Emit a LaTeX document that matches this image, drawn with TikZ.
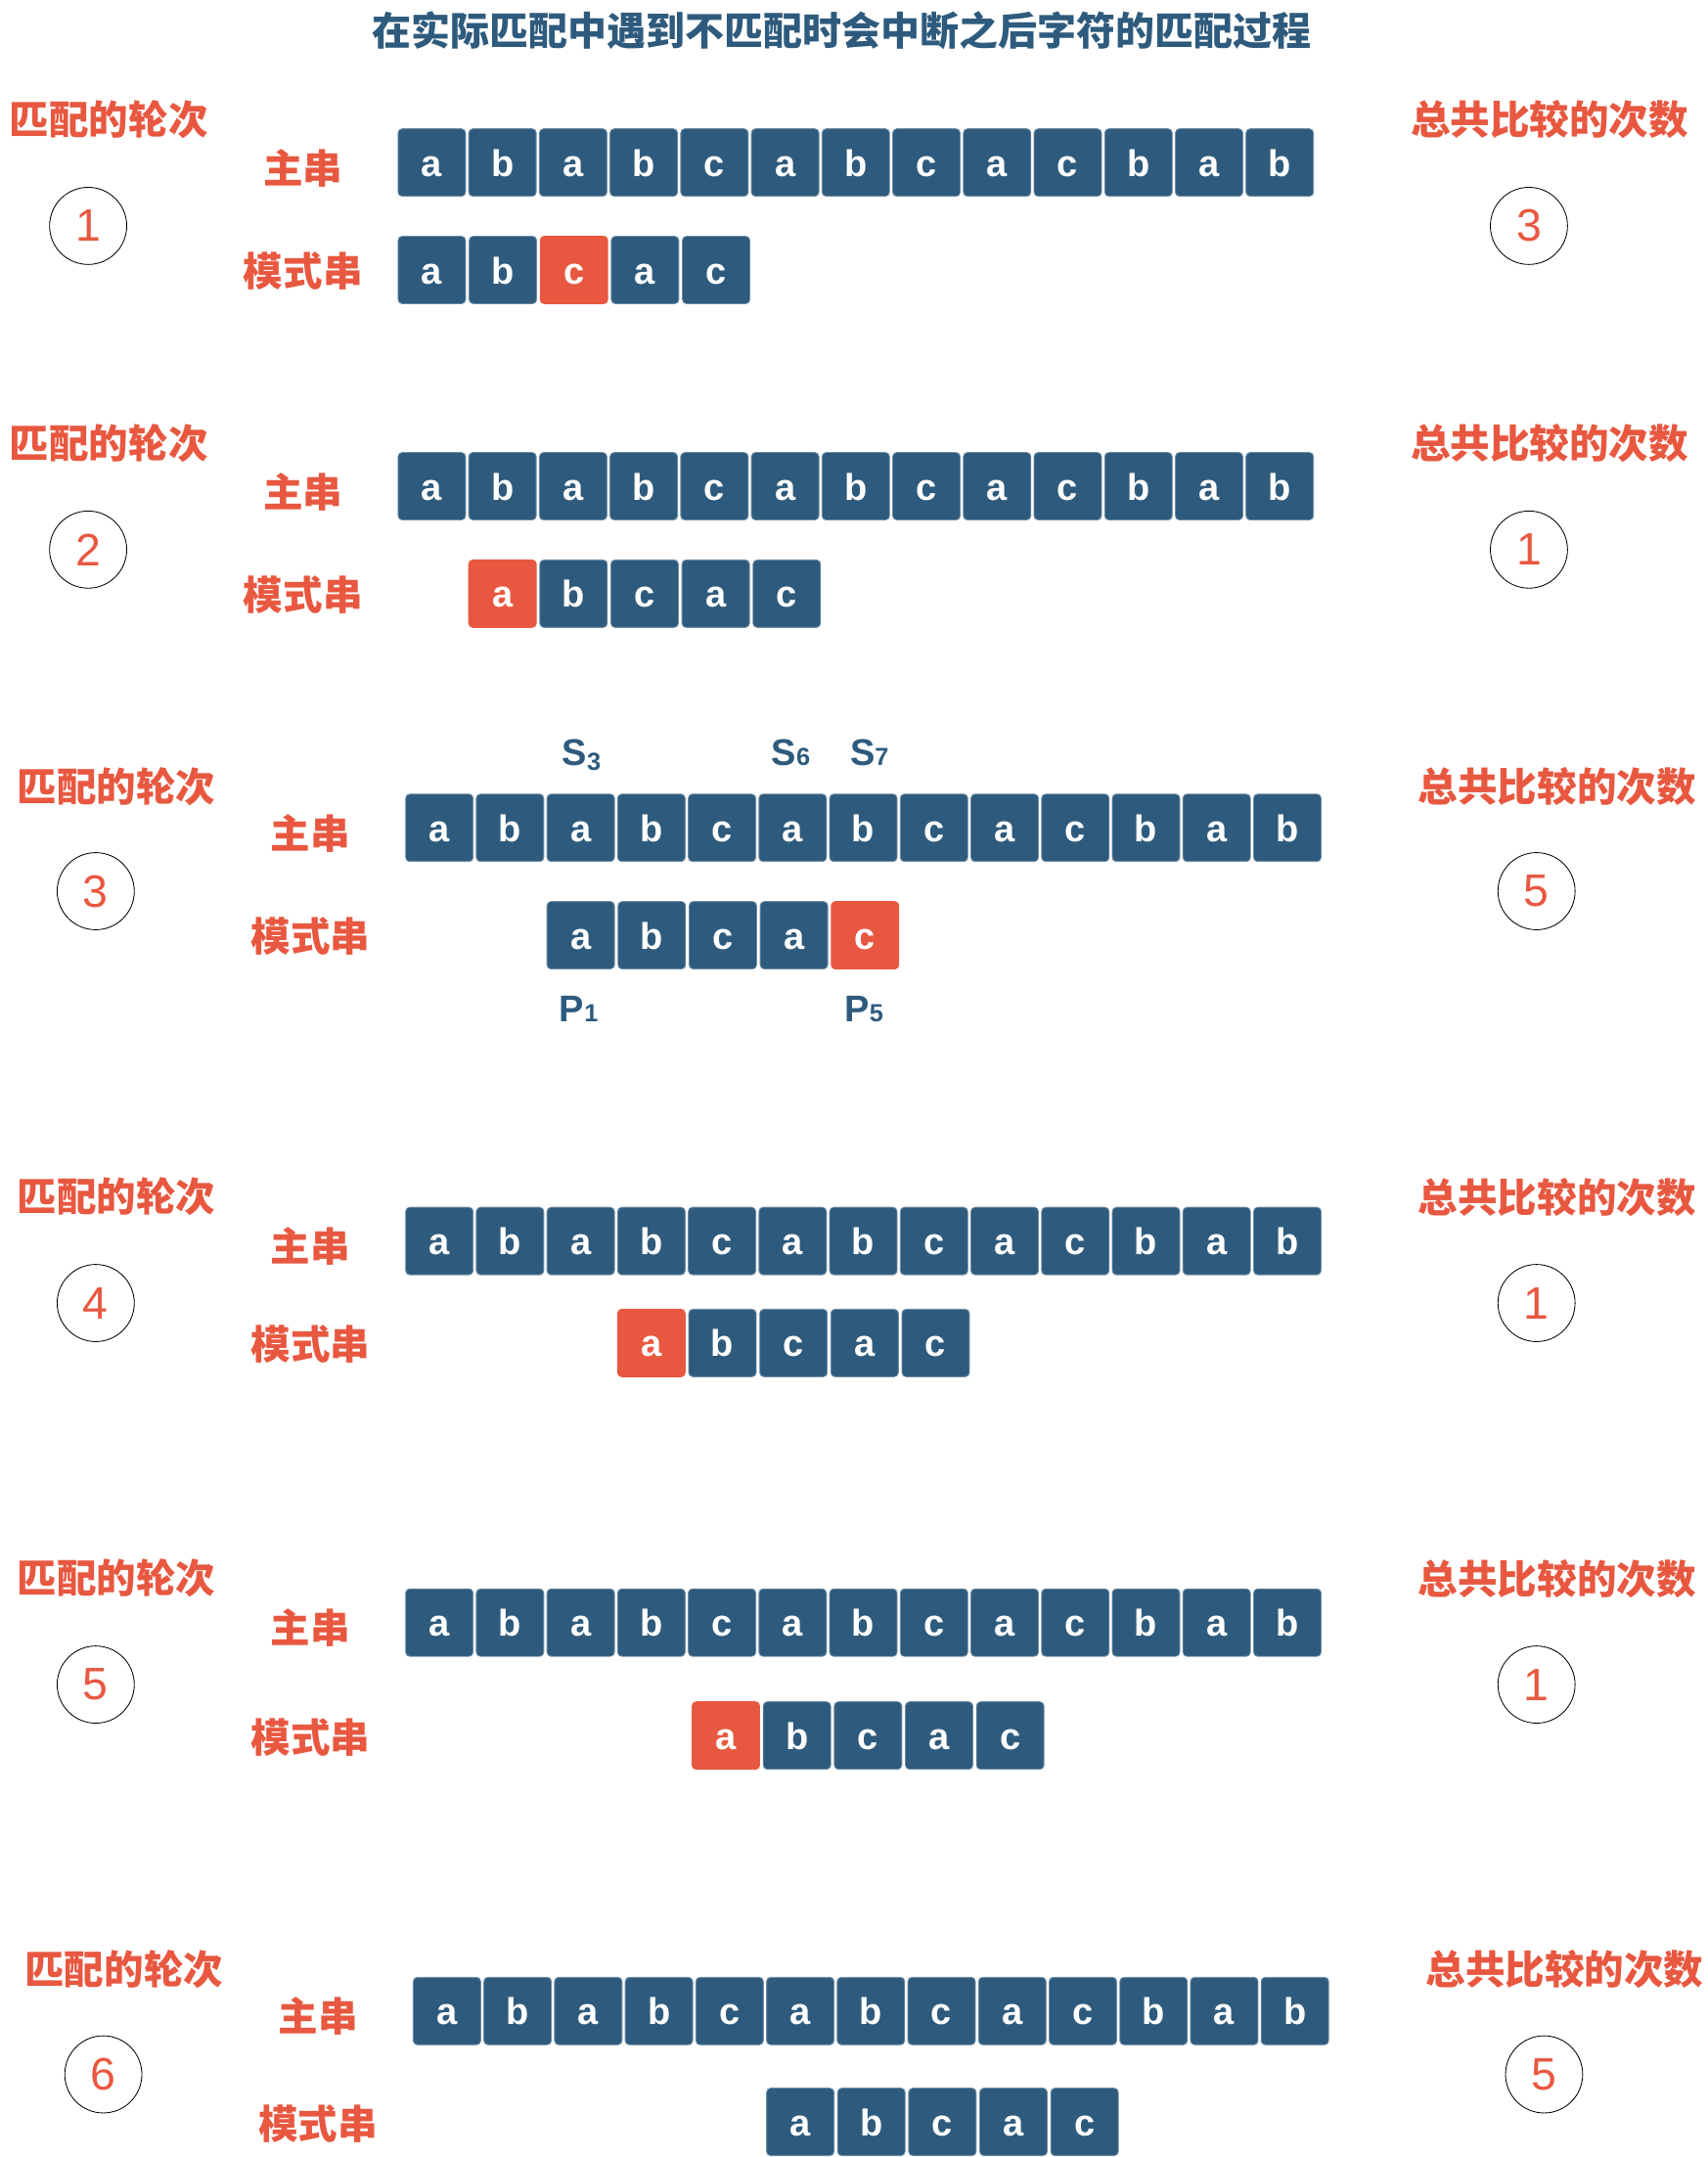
\documentclass[tikz,border=0pt]{standalone}
\usepackage{fontspec}
\setmainfont{Liberation Sans}
\newfontfamily\cjk{Noto Sans CJK SC}
\usepackage{tikz}
\usetikzlibrary{shapes}

\definecolor{boxblue}{HTML}{2E5B7D}
\definecolor{hitred}{HTML}{E85840}

\begin{document}
\begin{tikzpicture}[x=1pt, y=-1pt,
   cell/.style={draw=boxblue!70!white, line width=0.6pt, fill=boxblue,
      rounded corners=3pt, minimum width=49pt, minimum height=49pt,
      inner sep=0pt, text=white, text height=20pt, text depth=0pt,
      font=\bfseries\fontsize{27}{27}\selectfont},
   hit/.style={cell, fill=hitred, draw=hitred},
   tag/.style={text=hitred, inner sep=0pt,
      font=\cjk\bfseries\fontsize{28.8}{28.8}\selectfont},
   num/.style={draw, circle, line width=0.6pt, minimum size=56pt,
      inner sep=0pt, text=hitred, font=\fontsize{33}{33}\selectfont},
   idx/.style={text=boxblue, inner sep=0pt, anchor=base west,
      font=\bfseries\fontsize{27}{27}\selectfont}]
\useasboundingbox (0,0) rectangle (1240,1566);

\node[tag, text=boxblue, font=\cjk\bfseries\fontsize{28.4}{28.4}\selectfont]
  (title) at (611,22) {在实际匹配中遇到不匹配时会中断之后字符的匹配过程};

% one block per round
\foreach \r/\mx/\my/\px/\py/\red/\dx/\hy/\cy/\cnt in {
   1/313.5/118/313.5/196/3/0/87/164/3,
   2/313.5/353/364.8/431/1/0/322/399/1,
   3/319/601/421.6/679/5/5.5/571/647/5,
   4/319/901/472.9/975/1/5.5/869/946/1,
   5/319/1178/527/1260/1/5.5/1146/1223/1,
   6/324.5/1460/581/1540.5/0/11/1430/1506/5} {
  \node[tag] (round\r) at (79+\dx,\hy) {匹配的轮次};
  \node[num] (no\r) at (64+\dx,\cy) {\r};
  \node[tag] (total\r) at (1125+\dx,\hy) {总共比较的次数};
  \node[num] (cnt\r) at (1110+\dx,\cy) {\cnt};
  \node[tag] (mainlbl\r) at (220+\dx,\my+4) {主串};
  \node[tag] (patlbl\r) at (220+\dx,\py+1) {模式串};
  \foreach \c [count=\i from 0] in {a,b,a,b,c,a,b,c,a,c,b,a,b}
    \node[cell] (m\r-\i) at (\mx+\i*51.3,\my) {\c};
  \foreach \c [count=\i] in {a,b,c,a,c} {
    \ifnum\i=\red \def\st{hit}\else\def\st{cell}\fi
    \node[\st] (p\r-\i) at (\px+\i*51.6-51.6,\py) {\c};
  }
}

% pointers of round 3
\node[idx] (s3) at (408,556) {S\raisebox{-3.5pt}{\fontsize{18}{18}\selectfont 3}};
\node[idx] (s6) at (560,556) {S{\fontsize{18}{18}\selectfont 6}};
\node[idx] (s7) at (617,556) {S{\fontsize{18}{18}\selectfont 7}};
\node[idx] (p1) at (406,742) {P{\fontsize{18}{18}\selectfont 1}};
\node[idx] (p5) at (613,742) {P{\fontsize{18}{18}\selectfont 5}};
\end{tikzpicture}
\end{document}
